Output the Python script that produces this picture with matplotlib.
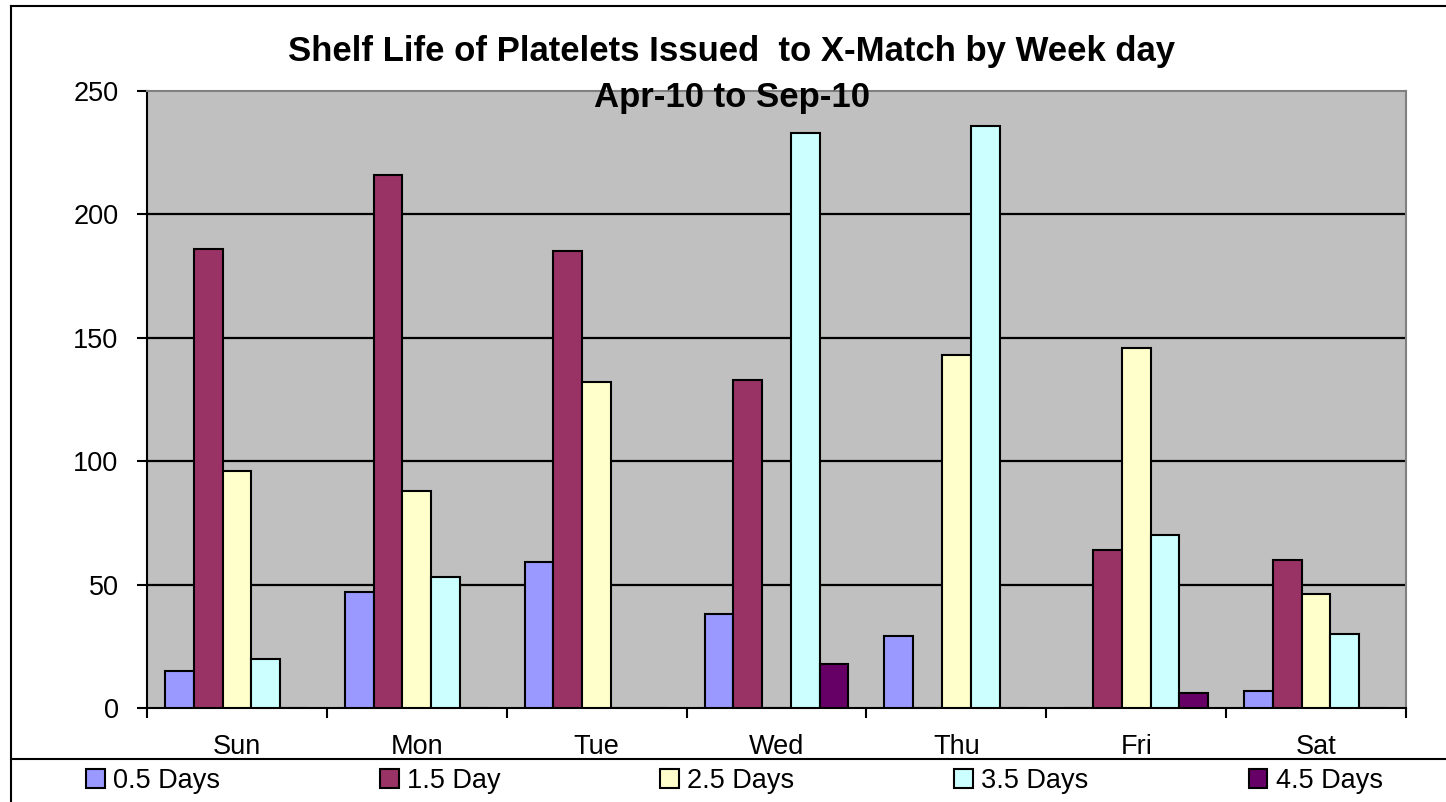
import matplotlib
matplotlib.use("Agg")
import matplotlib.pyplot as plt
import numpy as np
from matplotlib.lines import Line2D

categories = ["Sun", "Mon", "Tue", "Wed", "Thu", "Fri", "Sat"]
series_names = ["0.5 Days", "1.5 Day", "2.5 Days", "3.5 Days", "4.5 Days"]
d05 = [15, 47, 59, 38, 29, 0, 7]
d15 = [186, 216, 185, 133, 0, 64, 60]
d25 = [96, 88, 132, 0, 143, 146, 46]
d35 = [20, 53, 0, 233, 236, 70, 30]
d45 = [0, 0, 0, 18, 0, 6, 0]
series = [d05, d15, d25, d35, d45]
colors = ["#9999FF", "#993366", "#FFFFCC", "#CCFFFF", "#660066"]
yticks = [0, 50, 100, 150, 200, 250]
title_l1 = "Shelf Life of Platelets Issued  to X-Match by Week day"
title_l2 = "Apr-10 to Sep-10"

plt.rcParams['font.family'] = ['Liberation Sans', 'DejaVu Sans']

W, H = 1446, 802
fig = plt.figure(figsize=(W / 100, H / 100), dpi=100)
fig.patch.set_facecolor("white")

def fx(px):
    return px / W

def fy(py):
    return 1 - py / H

ax = fig.add_axes([fx(147), fy(708), fx(1406) - fx(147), fy(91) - fy(708)])
ax.set_facecolor("#C0C0C0")

x = np.arange(len(categories))
bw = 0.16
n = len(series)
for i, (vals, c, name) in enumerate(zip(series, colors, series_names)):
    offs = (i - (n - 1) / 2) * bw
    ax.bar(x + offs, vals, width=bw, color=c, edgecolor="black", linewidth=1.5,
           label=name, zorder=3)

ax.set_xlim(-0.5, len(categories) - 0.5)
ax.set_ylim(0, 250)
ax.set_yticks(yticks)
ax.set_yticklabels([str(v) for v in yticks])
for v in yticks[1:-1]:
    ax.axhline(v, color="black", linewidth=1.6, zorder=1)

ax.set_xticks(np.arange(len(categories) + 1) - 0.5)
ax.set_xticklabels([])
ax.set_xticks(x, minor=True)
ax.set_xticklabels(categories, minor=True)
ax.tick_params(axis="x", which="major", direction="out", length=7.5, width=1.5, color="black")
ax.tick_params(axis="x", which="minor", length=0, pad=19, labelsize=19.5)
ax.tick_params(axis="y", direction="out", length=7.5, width=1.5, pad=13, labelsize=19.5)

for s in ["left", "bottom"]:
    ax.spines[s].set_color("black")
    ax.spines[s].set_linewidth(1.5)
for s in ["top", "right"]:
    ax.spines[s].set_color("#808080")
    ax.spines[s].set_linewidth(1.5)

fig.text(fx(732), fy(52), title_l1, ha="center", va="center", fontsize=25, fontweight="bold")
fig.text(fx(732), fy(98), title_l2, ha="center", va="center", fontsize=25, fontweight="bold")

# chart border lines
fig.add_artist(Line2D([fx(11), fx(11)], [fy(6), 0], color="black", linewidth=1.5, transform=fig.transFigure))
fig.add_artist(Line2D([fx(11), 1], [fy(6), fy(6)], color="black", linewidth=1.5, transform=fig.transFigure))
fig.add_artist(Line2D([fx(11), 1], [fy(759), fy(759)], color="black", linewidth=1.5, transform=fig.transFigure))

handles, labels = ax.get_legend_handles_labels()
leg = fig.legend(handles, labels, ncol=5, loc="center left",
                 bbox_to_anchor=(fx(86), fy(781)), frameon=False, fontsize=19.5,
                 handlelength=0.7, handleheight=0.7, handletextpad=0.3,
                 columnspacing=5.9, borderpad=0, borderaxespad=0)

fig.savefig("out.png", dpi=100)
